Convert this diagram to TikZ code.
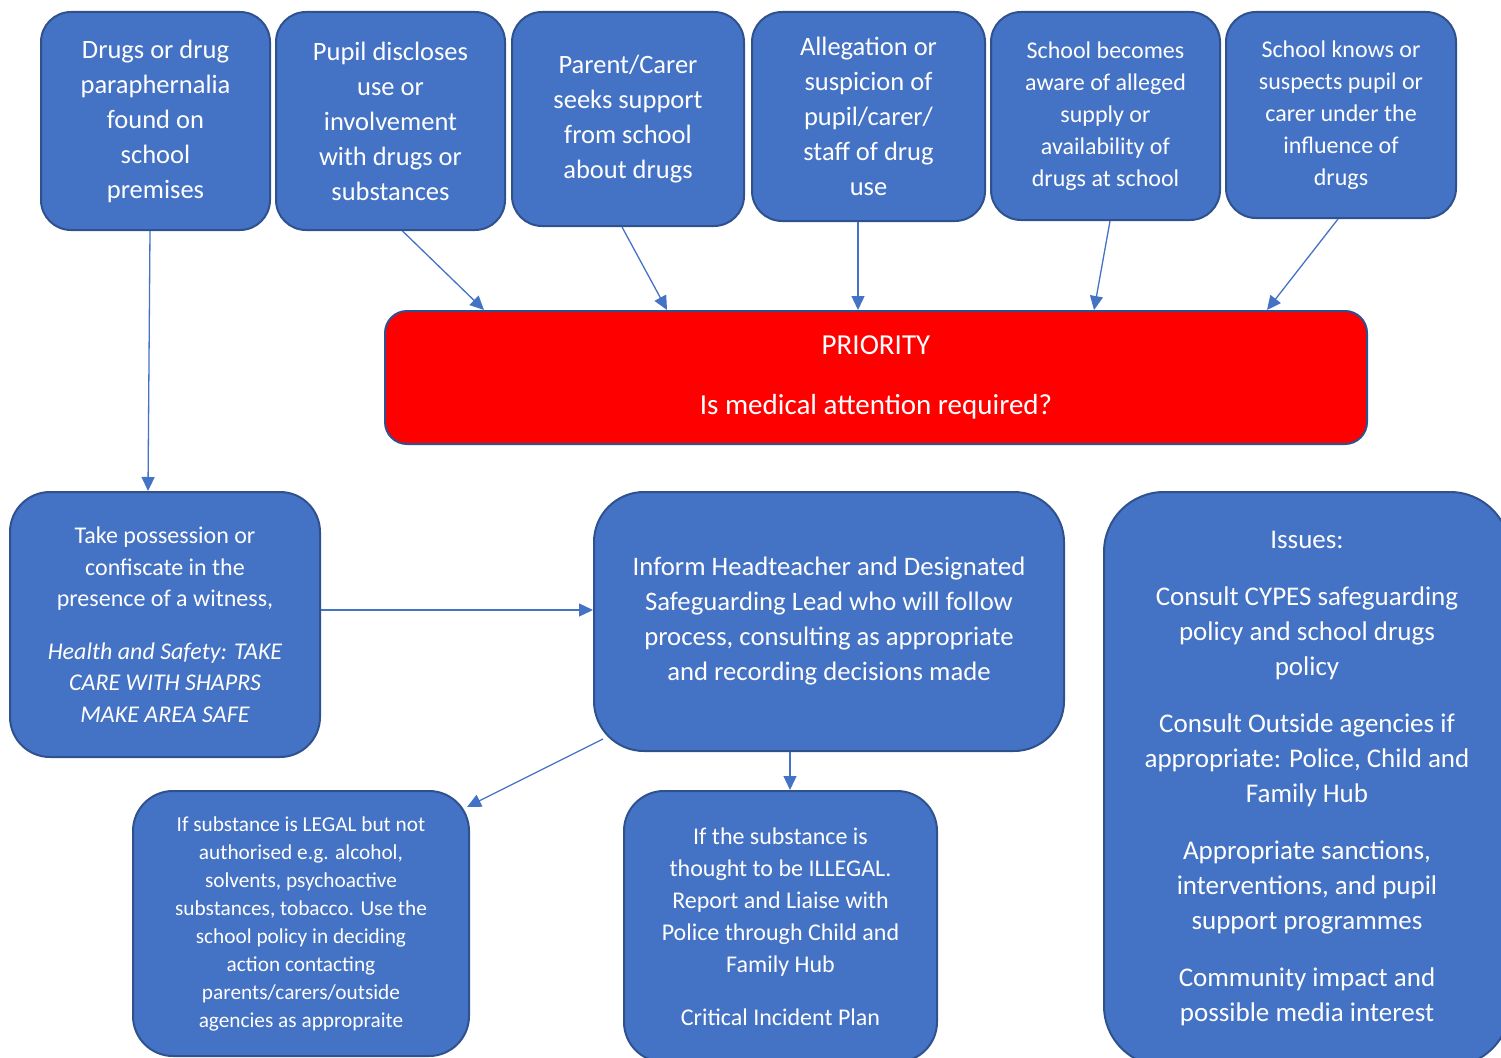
\documentclass[tikz,border=0pt]{standalone}
\usepackage{fontspec}
\setmainfont{Carlito}
\usetikzlibrary{arrows.meta}

\definecolor{boxblue}{HTML}{4472C4}
\definecolor{boxline}{HTML}{2F528F}

\tikzset{
  box/.style={draw=boxline, fill=boxblue, text=white, line width=2pt, rounded corners=30pt, align=center, inner sep=0pt},
  link/.style={draw=boxblue, line width=1.3pt, -{Triangle[length=14pt,width=13pt]}},
}

\begin{document}
\begin{tikzpicture}[x=1pt, y=-1pt]
  \useasboundingbox (0,0) rectangle (1501,1057);
  \clip (0,0) rectangle (1501,1057);

  % top row: how the concern comes up
  \node[box, minimum width=229pt, minimum height=218pt, font=\fontsize{26.5}{35}\selectfont] (drugs) at (155.5,121) {Drugs or drug\\paraphernalia\\found on\\school\\premises};
  \node[box, minimum width=229pt, minimum height=218pt, font=\fontsize{26.5}{35}\selectfont] (pupil) at (390.5,121) {Pupil discloses\\use or\\involvement\\with drugs or\\substances};
  \node[box, minimum width=232pt, minimum height=214pt, font=\fontsize{26.5}{35}\selectfont] (parent) at (628,119) {Parent/Carer\\seeks support\\from school\\about drugs};
  \node[box, minimum width=233pt, minimum height=209pt, font=\fontsize{26.5}{35}\selectfont] (allegation) at (868.5,116.5) {Allegation or\\suspicion of\\pupil/carer/\\staff of drug\\use};
  \node[box, minimum width=229pt, minimum height=208pt, font=\fontsize{24}{32}\selectfont] (aware) at (1105.5,116) {School becomes\\aware of alleged\\supply or\\availability of\\drugs at school};
  \node[box, minimum width=230pt, minimum height=206pt, font=\fontsize{24}{32}\selectfont] (knows) at (1341,115) {School knows or\\suspects pupil or\\carer under the\\influence of\\drugs};

  \node[box, fill=red, rounded corners=22pt, minimum width=982pt, minimum height=133pt, font=\fontsize{29}{30}\selectfont] (priority) at (876,377.5) {PRIORITY\\[30pt]Is medical attention required?};

  % middle row
  \node[box, rounded corners=40pt, minimum width=310pt, minimum height=265pt, font=\fontsize{24}{31.5}\selectfont] (take) at (165,624.5) {Take possession or\\confiscate in the\\presence of a witness,\\[21pt]\itshape Health and Safety: TAKE\\\itshape CARE WITH SHAPRS\\\itshape MAKE AREA SAFE};
  \node[box, rounded corners=50pt, minimum width=470pt, minimum height=259pt, font=\fontsize{26.7}{35}\selectfont] (inform) at (829,621.5) {Inform Headteacher and Designated\\Safeguarding Lead who will follow\\process, consulting as appropriate\\and recording decisions made};
  \node[box, rounded corners=60pt, minimum width=406pt, minimum height=574pt, font=\fontsize{27}{35}\selectfont] (issues) at (1307,779) {Issues:\\[22pt]Consult CYPES safeguarding\\policy and school drugs\\policy\\[22pt]Consult Outside agencies if\\appropriate: Police, Child and\\Family Hub\\[22pt]Appropriate sanctions,\\interventions, and pupil\\support programmes\\[22pt]Community impact and\\possible media interest};

  % bottom row
  \node[box, rounded corners=40pt, minimum width=336pt, minimum height=265pt, font=\fontsize{21.3}{28}\selectfont] (legal) at (301,923.5) {If substance is LEGAL but not\\authorised e.g. alcohol,\\solvents, psychoactive\\substances, tobacco. Use the\\school policy in deciding\\action contacting\\parents/carers/outside\\agencies as appropraite};
  \node[box, rounded corners=40pt, minimum width=313pt, minimum height=271pt, font=\fontsize{24}{32}\selectfont] (illegal) at (780.5,926.5) {If the substance is\\thought to be ILLEGAL.\\Report and Liaise with\\Police through Child and\\Family Hub\\[21pt]Critical Incident Plan};

  \draw[link] ([xshift=-5.5pt]drugs.south) -- ([xshift=-17pt]take.north);
  \draw[link] ([xshift=12pt]pupil.south) -- ([xshift=-392pt]priority.north);
  \draw[link] ([xshift=-6pt]parent.south) -- ([xshift=-209pt]priority.north);
  \draw[link] ([xshift=-10.5pt]allegation.south) -- ([xshift=-18pt]priority.north);
  \draw[link] ([xshift=4.5pt]aware.south) -- ([xshift=218pt]priority.north);
  \draw[link] ([xshift=-3pt]knows.south) -- ([xshift=391pt]priority.north);
  \draw[link] ([yshift=14.5pt]take.east) -- ([yshift=11.5pt]inform.west);
  \draw[link] ([xshift=10pt,yshift=13pt]inform.south west) -- ([xshift=-3pt,yshift=-17pt]legal.north east);
  \draw[link] ([xshift=-39pt]inform.south) -- ([xshift=9.5pt]illegal.north);
\end{tikzpicture}
\end{document}
